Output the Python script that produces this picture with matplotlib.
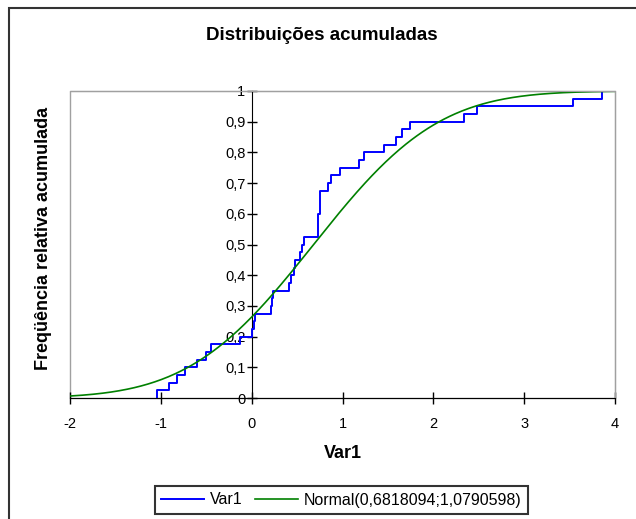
import math
import numpy as np
import matplotlib
matplotlib.use("Agg")
import matplotlib.pyplot as plt
from matplotlib.patches import Rectangle

plt.rcParams['font.family'] = ['Liberation Sans', 'DejaVu Sans']
plt.rcParams['axes.unicode_minus'] = False

# sorted observations of Var1 (n = 40)
var1 = [-1.046, -0.91, -0.82, -0.73, -0.60, -0.50, -0.445, -0.13,
        0.007, 0.025, 0.04, 0.21, 0.22, 0.235, 0.41, 0.43, 0.466, 0.477,
        0.532, 0.55, 0.58, 0.734, 0.734, 0.734, 0.752, 0.752, 0.752,
        0.837, 0.873, 0.972, 1.178, 1.233, 1.454, 1.586, 1.659, 1.747,
        2.338, 2.478, 3.535, 3.861]

# fitted normal parameters
mu = 0.6818094
sigma = 1.0790598

x_ticks = [-2, -1, 0, 1, 2, 3, 4]
y_ticks = [0, 0.1, 0.2, 0.3, 0.4, 0.5, 0.6, 0.7, 0.8, 0.9, 1]
y_tick_labels = ['0', '0,1', '0,2', '0,3', '0,4', '0,5', '0,6', '0,7', '0,8', '0,9', '1']

# empirical cumulative frequency
n = len(var1)
xs = np.array([var1[0]] + var1)
ys = np.concatenate([[0], np.arange(1, n + 1) / n])

# normal cdf over the axis range
xg = np.linspace(-2, 4, 400)
cdf = np.array([0.5 * (1 + math.erf((v - mu) / (sigma * math.sqrt(2)))) for v in xg])

fig = plt.figure(figsize=(6.36, 5.19), dpi=100)
ax = fig.add_axes([70 / 636, 1 - 398 / 519, 545 / 636, 307 / 519])

blue, = ax.plot(xs, ys, drawstyle='steps-post', color='#0000ff', lw=1.4, label='Var1')
green, = ax.plot(xg, cdf, color='#008000', lw=1.2, label='Normal(0,6818094;1,0790598)')

ax.set_xlim(-2, 4)
ax.set_ylim(0, 1)

# plot-area frame in grey, axes crossing at zero in black
for s in ['top', 'right']:
    ax.spines[s].set_color('#a0a0a0')
ax.add_patch(Rectangle((0, 0), 1, 1, transform=ax.transAxes, fill=False,
                       edgecolor='#a0a0a0', lw=1, clip_on=False, zorder=0))
ax.spines['left'].set_position(('data', 0))
ax.spines['left'].set_color('black')
ax.spines['bottom'].set_color('black')
ax.spines['left'].set_zorder(1)

ax.set_xticks(x_ticks)
ax.set_xticklabels([str(t) for t in x_ticks])
ax.set_yticks(y_ticks)
ax.set_yticklabels(y_tick_labels)
ax.tick_params(axis='y', direction='inout', length=7, width=1, pad=1, labelsize=10.5)
ax.tick_params(axis='x', direction='inout', length=8, width=1, pad=10, labelsize=10.5)

ax.set_xlabel('Var1', fontsize=13, fontweight='bold', va='center')
ax.xaxis.set_label_coords(0.5, -0.181)
ax.set_ylabel('Freqüência relativa acumulada', fontsize=13, fontweight='bold', va='center')
ax.yaxis.set_label_coords(-0.048, 0.52)

fig.text(322 / 636, 1 - 36 / 519, 'Distribuições acumuladas', fontsize=13.5,
         fontweight='bold', ha='center', va='center')

leg = fig.legend(handles=[blue, green], loc='center', ncol=2,
                 bbox_to_anchor=(341.5 / 636, 1 - 500 / 519), fontsize=11.5,
                 frameon=True, fancybox=False, handlelength=2.7,
                 handletextpad=0.35, columnspacing=0.8, borderpad=0.4)
leg.get_frame().set_edgecolor('black')
leg.get_frame().set_linewidth(1.5)

# chart-area border
fig.patches.append(Rectangle((9 / 636, -0.1), 1.2, 1 - 8 / 519 + 0.1,
                             transform=fig.transFigure, fill=False,
                             edgecolor='#333333', lw=1.5))

fig.savefig('out.png', dpi=100)
